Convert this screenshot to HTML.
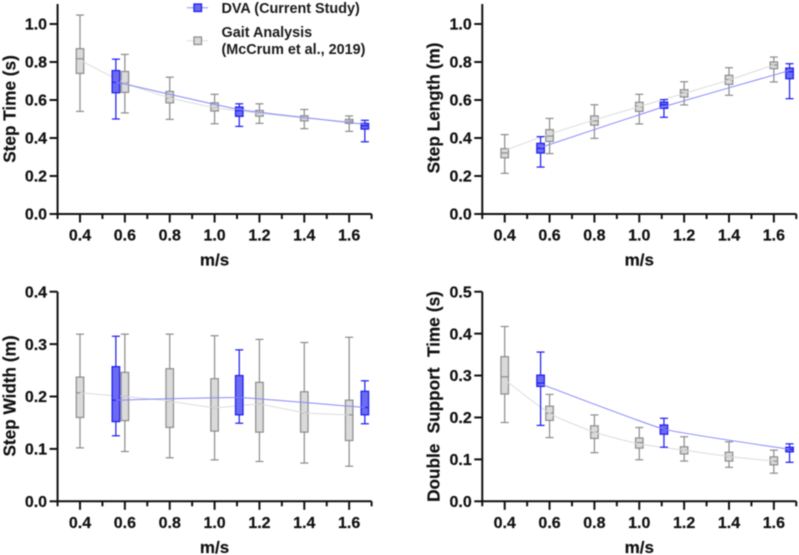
<!DOCTYPE html>
<html lang="en">
<head>
<meta charset="utf-8">
<title>Gait parameters vs walking speed</title>
<style>
html,body{margin:0;padding:0;background:#fff;}
body{width:799px;height:555px;overflow:hidden;}
svg{display:block;filter:blur(0.45px);font-family:"Liberation Sans",sans-serif;font-weight:bold;fill:#111;}
text{white-space:pre;}
</style>
</head>
<body>
<svg id="chart" width="799" height="555" viewBox="0 0 799 555" xmlns="http://www.w3.org/2000/svg">
  <g>
    <g>
      <line x1="187" y1="7.7" x2="208" y2="7.7" stroke="#8c8cff" stroke-width="1"/>
      <rect x="194" y="4" width="7.5" height="7.5" fill="#6a6af2" stroke="#2020ee" stroke-width="1.3"/>
      <text x="221.5" y="13" font-size="14.4" fill="#1a1a1a">DVA (Current Study)</text>
    </g>
    <g>
      <line x1="187" y1="40.7" x2="208" y2="40.7" stroke="#dddddd" stroke-width="1"/>
      <rect x="194" y="37" width="7.5" height="7.5" fill="#d9d9d9" stroke="#909090" stroke-width="1.3"/>
      <text x="221.5" y="37" font-size="14.4" fill="#1a1a1a">Gait Analysis</text>
      <text x="221.5" y="54" font-size="14.4" fill="#1a1a1a">(McCrum et al., 2019)</text>
    </g>
  </g>
</svg>
<script>
// Shared categories and tick labels
const grayCategories = [0.4, 0.6, 0.8, 1.0, 1.2, 1.4, 1.6];
const blueCategories = [0.56, 1.11, 1.67];
const xTickValues = [0.4, 0.6, 0.8, 1.0, 1.2, 1.4, 1.6];
const xMinorTickValues = [0.3, 0.5, 0.7, 0.9, 1.1, 1.3, 1.5, 1.7];
const stepTimeTicks = [0.0, 0.2, 0.4, 0.6, 0.8, 1.0];
const stepLengthTicks = [0.0, 0.2, 0.4, 0.6, 0.8, 1.0];
const stepWidthTicks = [0.0, 0.1, 0.2, 0.3, 0.4];
const doubleSupportTicks = [0.0, 0.1, 0.2, 0.3, 0.4, 0.5];

// Box values: [low whisker, q1, median, q3, high whisker]
const stepTimeGray = [
  [0.54, 0.74, 0.817, 0.87, 1.047],
  [0.532, 0.64, 0.69, 0.75, 0.84],
  [0.498, 0.585, 0.612, 0.645, 0.72],
  [0.475, 0.542, 0.56, 0.585, 0.63],
  [0.477, 0.515, 0.53, 0.545, 0.58],
  [0.449, 0.49, 0.505, 0.517, 0.55],
  [0.435, 0.477, 0.488, 0.498, 0.516]
];
const stepTimeBlue = [
  [0.5, 0.638, 0.693, 0.755, 0.815],
  [0.461, 0.514, 0.544, 0.563, 0.58],
  [0.38, 0.447, 0.465, 0.477, 0.493]
];
const stepTimeGrayLine = [0.81, 0.69, 0.612, 0.56, 0.53, 0.505, 0.485];
const stepTimeBlueLine = [0.695, 0.55, 0.472];

const stepLengthGray = [
  [0.214, 0.296, 0.321, 0.344, 0.418],
  [0.318, 0.382, 0.41, 0.444, 0.503],
  [0.398, 0.468, 0.49, 0.516, 0.575],
  [0.474, 0.54, 0.565, 0.588, 0.63],
  [0.574, 0.616, 0.637, 0.654, 0.696],
  [0.625, 0.682, 0.707, 0.73, 0.77],
  [0.695, 0.765, 0.784, 0.8, 0.826]
];
const stepLengthBlue = [
  [0.247, 0.321, 0.346, 0.372, 0.407],
  [0.509, 0.556, 0.575, 0.589, 0.602],
  [0.607, 0.712, 0.749, 0.768, 0.791]
];
const stepLengthGrayLine = [0.335, 0.42, 0.495, 0.565, 0.635, 0.705, 0.785];
const stepLengthBlueLine = [0.35, 0.565, 0.755];

const stepWidthGray = [
  [0.102, 0.16, 0.207, 0.237, 0.319],
  [0.095, 0.154, 0.2, 0.246, 0.319],
  [0.083, 0.141, 0.191, 0.253, 0.319],
  [0.079, 0.134, 0.179, 0.234, 0.316],
  [0.076, 0.132, 0.185, 0.227, 0.309],
  [0.073, 0.132, 0.169, 0.209, 0.303],
  [0.067, 0.116, 0.165, 0.193, 0.313]
];
const stepWidthBlue = [
  [0.125, 0.152, 0.193, 0.257, 0.315],
  [0.149, 0.165, 0.198, 0.24, 0.289],
  [0.148, 0.165, 0.179, 0.21, 0.23]
];
const stepWidthGrayLine = [0.207, 0.2, 0.191, 0.179, 0.185, 0.169, 0.165];
const stepWidthBlueLine = [0.193, 0.198, 0.179];

const doubleSupportGray = [
  [0.188, 0.256, 0.297, 0.345, 0.417],
  [0.152, 0.193, 0.21, 0.227, 0.255],
  [0.116, 0.15, 0.165, 0.18, 0.206],
  [0.099, 0.127, 0.14, 0.151, 0.176],
  [0.096, 0.113, 0.122, 0.13, 0.154],
  [0.081, 0.096, 0.107, 0.117, 0.142],
  [0.067, 0.087, 0.096, 0.106, 0.122]
];
const doubleSupportBlue = [
  [0.181, 0.274, 0.282, 0.301, 0.356],
  [0.129, 0.16, 0.172, 0.182, 0.198],
  [0.093, 0.118, 0.124, 0.129, 0.137]
];
const doubleSupportGrayLine = [0.29, 0.21, 0.165, 0.137, 0.122, 0.107, 0.096];
const doubleSupportBlueLine = [0.28, 0.172, 0.124];

const SVG_NS = 'http://www.w3.org/2000/svg';
const svg = document.getElementById('chart');

function make(tag, attrs, parent) {
  const el = document.createElementNS(SVG_NS, tag);
  for (const k in attrs) el.setAttribute(k, attrs[k]);
  parent.appendChild(el);
  return el;
}

function smoothPath(xs, ys, k) {
  let d = 'M' + xs[0] + ' ' + ys[0];
  for (let i = 0; i < xs.length - 1; i++) {
    const p0 = Math.max(i - 1, 0), p3 = Math.min(i + 2, xs.length - 1);
    const c1x = xs[i] + (xs[i + 1] - xs[p0]) / k;
    const c1y = ys[i] + (ys[i + 1] - ys[p0]) / k;
    const c2x = xs[i + 1] - (xs[p3] - xs[i]) / k;
    const c2y = ys[i + 1] - (ys[p3] - ys[i]) / k;
    d += ' C' + c1x + ' ' + c1y + ' ' + c2x + ' ' + c2y + ' ' + xs[i + 1] + ' ' + ys[i + 1];
  }
  return d;
}

function drawBoxes(g, cats, rows, sx, sy, fill, stroke, seriesName) {
  const halfBox = 3.75, halfCap = 4;
  cats.forEach(function (c, i) {
    const r = rows[i], x = sx(c);
    const box = make('g', {}, g);
    
    
    const ln = { stroke: stroke, 'stroke-width': 1.25 };
    make('line', Object.assign({ x1: x, x2: x, y1: sy(r[0]), y2: sy(r[1]) }, ln), box);
    make('line', Object.assign({ x1: x, x2: x, y1: sy(r[3]), y2: sy(r[4]) }, ln), box);
    make('line', Object.assign({ x1: x - halfCap, x2: x + halfCap, y1: sy(r[0]), y2: sy(r[0]) }, ln), box);
    make('line', Object.assign({ x1: x - halfCap, x2: x + halfCap, y1: sy(r[4]), y2: sy(r[4]) }, ln), box);
    make('rect', { x: x - halfBox, y: sy(r[3]), width: halfBox * 2, height: sy(r[1]) - sy(r[3]), fill: fill, stroke: stroke, 'stroke-width': 1.25 }, box);
    make('line', Object.assign({ x1: x - halfBox, x2: x + halfBox, y1: sy(r[2]), y2: sy(r[2]) }, ln), box);
  });
}

function drawPanel(p) {
  const sx = function (v) { return p.x0 + (v - 0.4) * p.xScale; };
  const sy = function (v) { return p.base - v * p.yScale; };
  const g = make('g', {}, svg);
  
  

  // X axis
  const xAxis = make('g', { stroke: '#111', 'stroke-width': 2 }, g);
  
  
  make('line', { x1: sx(0.3) - 1, x2: sx(1.7), y1: p.base, y2: p.base }, xAxis);
  xMinorTickValues.forEach(function (v) {
    make('line', { x1: sx(v), x2: sx(v), y1: p.base, y2: p.base + 5 }, xAxis);
  });
  xTickValues.forEach(function (v) {
    make('line', { x1: sx(v), x2: sx(v), y1: p.base, y2: p.base + 8.5 }, xAxis);
    const t = make('text', { x: sx(v), y: p.base + 26.5, 'text-anchor': 'middle', 'font-size': 16, stroke: '#111', 'stroke-width': 0.2 }, g);
    
    
    t.textContent = v.toFixed(1);
  });
  const xt = make('text', { x: sx(1.0), y: p.base + 51.5, 'text-anchor': 'middle', 'font-size': 17, stroke: '#111', 'stroke-width': 0.2 }, g);
  
  
  xt.textContent = 'm/s';

  // Y axis
  const yAxis = make('g', { stroke: '#111', 'stroke-width': 2 }, g);
  
  
  make('line', { x1: sx(0.3), x2: sx(0.3), y1: p.top, y2: p.base }, yAxis);
  p.yTicks.forEach(function (v) {
    make('line', { x1: sx(0.3) - 8, x2: sx(0.3), y1: sy(v), y2: sy(v) }, yAxis);
    const t = make('text', { x: sx(0.3) - 10.5, y: sy(v) + 5.7, 'text-anchor': 'end', 'font-size': 16, stroke: '#111', 'stroke-width': 0.2 }, g);
    
    
    t.textContent = v.toFixed(1);
  });
  const yt = make('text', { transform: 'translate(' + p.titleX + ' ' + p.titleY + ') rotate(-90)', 'text-anchor': 'middle', 'font-size': 17.2, stroke: '#111', 'stroke-width': 0.2, 'word-spacing': p.titleGap }, g);
  
  
  yt.textContent = p.title;

  // Gray series
  drawBoxes(g, grayCategories, p.gray, sx, sy, '#dadada', '#8f8f8f', 'gait-analysis');
  const gl = make('path', { d: smoothPath(grayCategories.map(sx), p.grayLine.map(sy), 10), fill: 'none', stroke: '#dcdcdc', 'stroke-width': 1 }, g);
  
  

  // Blue series
  drawBoxes(g, blueCategories, p.blue, sx, sy, '#6c6cf2', '#2020ee', 'dva');
  const bl = make('path', { d: smoothPath(blueCategories.map(sx), p.blueLine.map(sy), 16), fill: 'none', stroke: '#8888fb', 'stroke-width': 1 }, g);
  
  
}

drawPanel({ name: 'step-time', title: 'Step Time (s)', titleGap: 0, x0: 80, xScale: 224.3, base: 214, yScale: 190, top: 4, titleX: 15.5, titleY: 109, yTicks: stepTimeTicks, gray: stepTimeGray, blue: stepTimeBlue, grayLine: stepTimeGrayLine, blueLine: stepTimeBlueLine });
drawPanel({ name: 'step-length', title: 'Step Length (m)', titleGap: 0, x0: 504.7, xScale: 224.3, base: 214, yScale: 190, top: 4, titleX: 439.5, titleY: 108, yTicks: stepLengthTicks, gray: stepLengthGray, blue: stepLengthBlue, grayLine: stepLengthGrayLine, blueLine: stepLengthBlueLine });
drawPanel({ name: 'step-width', title: 'Step Width (m)', titleGap: 0, x0: 80, xScale: 224.3, base: 501.3, yScale: 524, top: 291.7, titleX: 15.5, titleY: 396, yTicks: stepWidthTicks, gray: stepWidthGray, blue: stepWidthBlue, grayLine: stepWidthGrayLine, blueLine: stepWidthBlueLine });
drawPanel({ name: 'double-support-time', title: 'Double  Support  Time (s)', titleGap: 0.4, x0: 504.7, xScale: 224.3, base: 501.3, yScale: 419.2, top: 291.7, titleX: 439.5, titleY: 396.5, yTicks: doubleSupportTicks, gray: doubleSupportGray, blue: doubleSupportBlue, grayLine: doubleSupportGrayLine, blueLine: doubleSupportBlueLine });
</script>
</body>
</html>
